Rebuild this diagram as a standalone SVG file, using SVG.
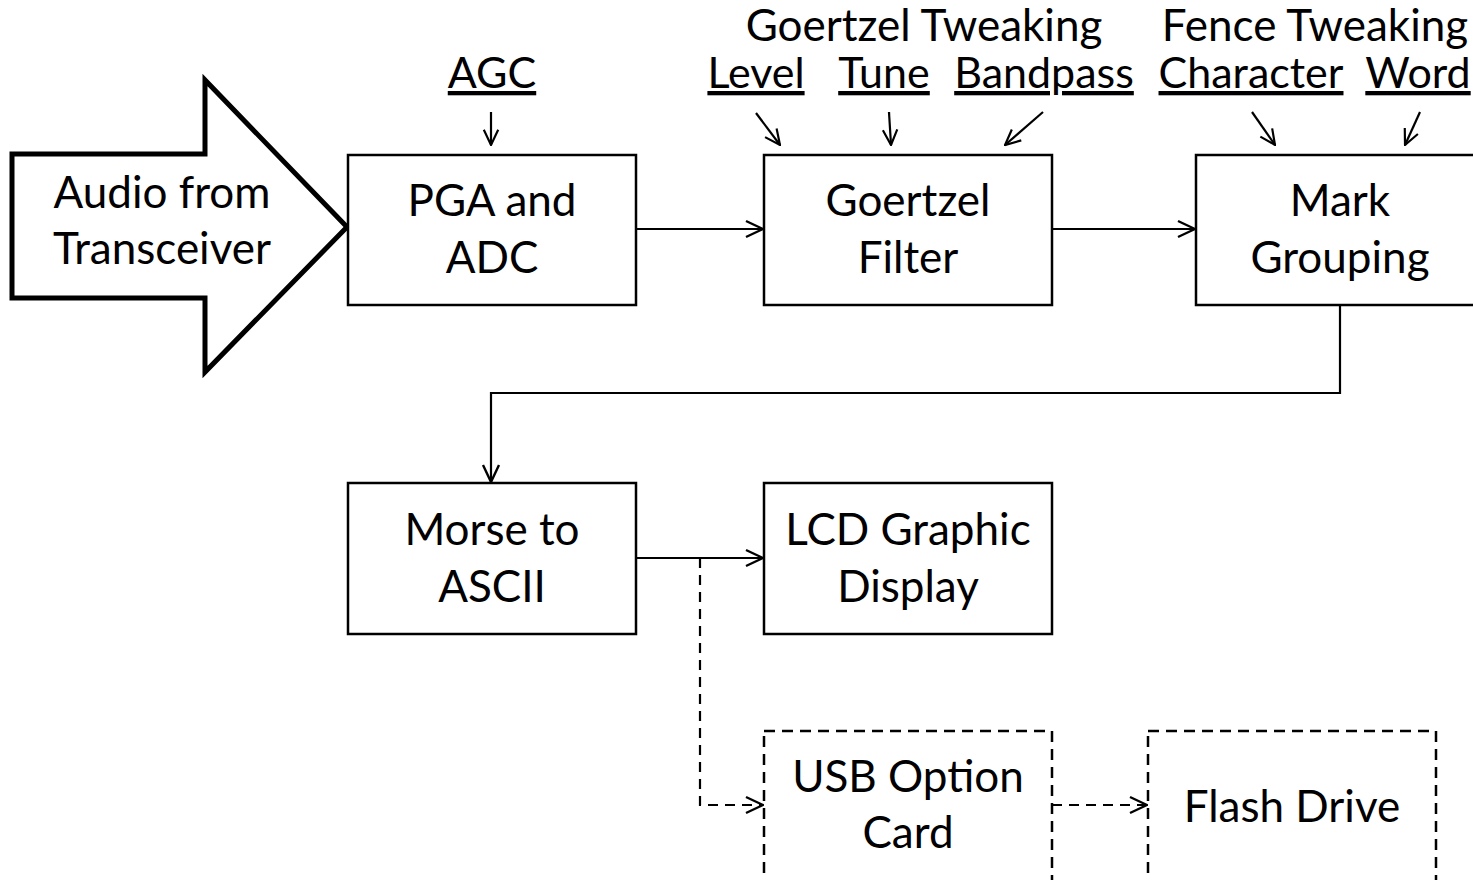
<svg xmlns="http://www.w3.org/2000/svg" width="1473" height="880" viewBox="0 0 1473 880">
<defs>
<style>
.box{fill:#fff;stroke:#000;stroke-width:2.5}
.dbox{fill:#fff;stroke:#000;stroke-width:2.5;stroke-dasharray:11 7}
.t{font-family:Lato,"Open Sans",sans-serif;font-size:44px;fill:#000;text-anchor:middle}
.u{font-family:Lato,"Open Sans",sans-serif;font-size:43px;fill:#000;text-anchor:middle;text-decoration:underline;text-decoration-thickness:3px;text-underline-offset:6px}
.h{font-family:Lato,"Open Sans",sans-serif;font-size:44px;fill:#000;text-anchor:middle}
.c{fill:none;stroke:#000;stroke-width:2.2}
.d{fill:none;stroke:#000;stroke-width:2.2;stroke-dasharray:10 7}
</style>
<marker id="ah" viewBox="0 0 20 20" refX="19" refY="10" markerWidth="20" markerHeight="20" markerUnits="userSpaceOnUse" orient="auto">
<path d="M2 2 L19 10 L2 18" fill="none" stroke="#000" stroke-width="2.4"/>
</marker>
<marker id="ahs" viewBox="0 0 20 20" refX="19" refY="10" markerWidth="18" markerHeight="18" markerUnits="userSpaceOnUse" orient="auto">
<path d="M2 2 L19 10 L2 18" fill="none" stroke="#000" stroke-width="2.4"/>
</marker>
</defs>
<rect width="1473" height="880" fill="#fff"/>

<g id="audio">
<polygon points="12,154 205,154 205,80 347,227 205,372 205,298 12,298" fill="#fff" stroke="#000" stroke-width="5" stroke-linejoin="miter"/>
<text class="t" x="162" y="208">Audio from</text>
<text class="t" x="162" y="264">Transceiver</text>
</g>

<g id="pga">
<rect class="box" x="348" y="155" width="288" height="150"/>
<text class="t" x="492" y="216">PGA and</text>
<text class="t" x="492" y="273">ADC</text>
</g>

<g id="goertzel">
<rect class="box" x="764" y="155" width="288" height="150"/>
<text class="t" x="908" y="216">Goertzel</text>
<text class="t" x="908" y="273">Filter</text>
</g>

<g id="mark">
<rect class="box" x="1196" y="155" width="288" height="150"/>
<text class="t" x="1340" y="216">Mark</text>
<text class="t" x="1340" y="273">Grouping</text>
</g>

<g id="morse">
<rect class="box" x="348" y="483" width="288" height="151"/>
<text class="t" x="492" y="545">Morse to</text>
<text class="t" x="492" y="602">ASCII</text>
</g>

<g id="lcd">
<rect class="box" x="764" y="483" width="288" height="151"/>
<text class="t" x="908" y="545">LCD Graphic</text>
<text class="t" x="908" y="602">Display</text>
</g>

<g id="usb">
<rect class="dbox" x="764" y="731" width="288" height="170"/>
<text class="t" x="908" y="792">USB Option</text>
<text class="t" x="908" y="848">Card</text>
</g>

<g id="flash">
<rect class="dbox" x="1148" y="731" width="288" height="170"/>
<text class="t" x="1292" y="822">Flash Drive</text>
</g>

<g id="labels">
<text class="h" x="924" y="41">Goertzel Tweaking</text>
<text class="h" x="1315" y="41">Fence Tweaking</text>
<text class="u" x="492" y="88">AGC</text>
<text class="u" x="756" y="88">Level</text>
<text class="u" x="884" y="88">Tune</text>
<text class="u" x="1044" y="88">Bandpass</text>
<text class="u" x="1251" y="88">Character</text>
<text class="u" x="1418" y="88">Word</text>
</g>

<g id="connectors">
<line class="c" x1="636" y1="229" x2="763" y2="229" marker-end="url(#ah)"/>
<line class="c" x1="1052" y1="229" x2="1195" y2="229" marker-end="url(#ah)"/>
<polyline class="c" points="1340,305 1340,393 491,393 491,482" marker-end="url(#ah)"/>
<line class="c" x1="636" y1="558" x2="763" y2="558" marker-end="url(#ah)"/>
<polyline class="d" points="700,558 700,805 763,805" marker-end="url(#ah)"/>
<line class="d" x1="1052" y1="805" x2="1147" y2="805" marker-end="url(#ah)"/>
<line class="c" x1="491" y1="112" x2="491" y2="145" marker-end="url(#ahs)"/>
<line class="c" x1="756" y1="113" x2="780" y2="145" marker-end="url(#ahs)"/>
<line class="c" x1="889" y1="112" x2="891" y2="145" marker-end="url(#ahs)"/>
<line class="c" x1="1043" y1="112" x2="1005" y2="145" marker-end="url(#ahs)"/>
<line class="c" x1="1252" y1="112" x2="1275" y2="145" marker-end="url(#ahs)"/>
<line class="c" x1="1420" y1="112" x2="1405" y2="145" marker-end="url(#ahs)"/>
</g>
</svg>
